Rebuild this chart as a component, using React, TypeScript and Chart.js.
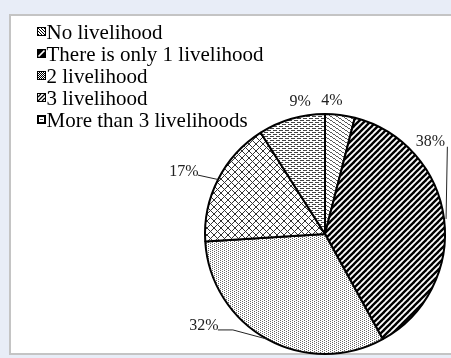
import React, { useEffect, useRef } from "react";
import { Chart, registerables } from "chart.js";

Chart.register(...registerables);

const categories = [
  "No livelihood",
  "There is only 1 livelihood",
  "2 livelihood",
  "3 livelihood",
  "More than 3 livelihoods",
];
const shares = [4, 38, 32, 17, 9];
const percentLabels = ["4%", "38%", "32%", "17%", "9%"];

type Draw = (g: CanvasRenderingContext2D) => void;

function makeTile(w: number, h: number, draw: Draw): HTMLCanvasElement {
  const c = document.createElement("canvas");
  c.width = w;
  c.height = h;
  const g = c.getContext("2d")!;
  g.fillStyle = "#fff";
  g.fillRect(0, 0, w, h);
  draw(g);
  return c;
}

function buildTiles(): HTMLCanvasElement[] {
  // 0: fine wavy dashes
  const t0 = makeTile(6, 4, (g) => {
    g.fillStyle = "#5a5a5a";
    g.fillRect(0, 0, 2, 1);
    g.fillRect(2, 1, 1, 1);
    g.fillRect(3, 2, 2, 1);
    g.fillRect(5, 3, 1, 1);
  });
  // 1: bold "/" stripes
  const t1 = makeTile(6, 6, (g) => {
    g.strokeStyle = "#000";
    g.lineWidth = 2.4;
    for (let k = -1; k <= 1; k++) {
      g.beginPath();
      g.moveTo(k * 6 - 1, 7);
      g.lineTo(k * 6 + 7, -1);
      g.stroke();
    }
  });
  // 2: fine stipple
  const t2 = makeTile(4, 2, (g) => {
    g.fillStyle = "#666";
    g.fillRect(0, 0, 1, 1);
    g.fillRect(2, 1, 1, 1);
  });
  // 3: diagonal crosshatch
  const t3 = makeTile(7, 7, (g) => {
    g.fillStyle = "#333";
    for (let y = 0; y < 7; y++)
      for (let x = 0; x < 7; x++)
        if ((x + y) % 7 === 0 || (x - y + 7) % 7 === 0) g.fillRect(x, y, 1, 1);
  });
  // 4: horizontal dashes
  const t4 = makeTile(6, 4, (g) => {
    g.fillStyle = "#444";
    g.fillRect(0, 0, 4, 1);
    g.fillRect(3, 2, 3, 1);
    g.fillRect(0, 2, 1, 1);
  });
  return [t0, t1, t2, t3, t4];
}

function makeIcon(idx: number): HTMLCanvasElement {
  const c = document.createElement("canvas");
  c.width = 23;
  c.height = 21;
  const g = c.getContext("2d")!;
  g.fillStyle = "#000";
  g.fillRect(13, 4, 9, 9);
  const ox = 14;
  const oy = 5;
  g.fillStyle = "#fff";
  if (idx === 1) {
    g.strokeStyle = "#fff";
    g.lineWidth = 1.7;
    g.beginPath();
    g.moveTo(14.5, 11.5);
    g.lineTo(20.5, 5.5);
    g.stroke();
  } else if (idx === 0) {
    for (let y = 0; y < 7; y++)
      for (let x = 0; x < 7; x++) if ((x + 2 * y) % 3 !== 0) g.fillRect(ox + x, oy + y, 1, 1);
  } else if (idx === 2) {
    for (let y = 0; y < 7; y++)
      for (let x = 0; x < 7; x++) if ((x + y) % 2 === 0) g.fillRect(ox + x, oy + y, 1, 1);
  } else if (idx === 3) {
    g.fillRect(ox, oy, 7, 7);
    g.strokeStyle = "#000";
    g.lineWidth = 1.2;
    g.beginPath();
    g.moveTo(ox, oy + 7);
    g.lineTo(ox + 7, oy);
    g.moveTo(ox, oy + 3);
    g.lineTo(ox + 3, oy);
    g.moveTo(ox + 4, oy + 7);
    g.lineTo(ox + 7, oy + 4);
    g.stroke();
  } else {
    g.fillRect(ox + 1, oy + 1, 5, 5);
    g.fillStyle = "#555";
    g.fillRect(ox + 2, oy + 3, 3, 1);
  }
  return c;
}

// label placement: angle offset from slice middle (deg), distance as fraction of radius
const labelAngleOffset = [-4.2, -34, 24, -3.3, 5.6];
const labelDistance = [1.108, 1.167, 1.267, 1.283, 1.125];

const labelPlugin = {
  id: "pctLabels",
  afterDatasetsDraw(chart: any) {
    const meta = chart.getDatasetMeta(0);
    const ctx: CanvasRenderingContext2D = chart.ctx;
    ctx.save();
    ctx.font = "16px 'Liberation Serif', 'Times New Roman', serif";
    ctx.fillStyle = "#222";
    ctx.textAlign = "center";
    ctx.textBaseline = "middle";
    meta.data.forEach((arc: any, i: number) => {
      const { x, y, startAngle, endAngle, outerRadius } = arc.getProps(
        ["x", "y", "startAngle", "endAngle", "outerRadius"],
        true
      );
      const mid = (startAngle + endAngle) / 2;
      const a = mid + (labelAngleOffset[i] * Math.PI) / 180;
      const d = outerRadius * labelDistance[i];
      const lx = x + Math.cos(a) * d;
      const ly = y + Math.sin(a) * d;
      ctx.fillText(percentLabels[i], lx, ly);
      const ex = x + Math.cos(mid) * outerRadius;
      const ey = y + Math.sin(mid) * outerRadius;
      ctx.strokeStyle = "#222";
      ctx.lineWidth = 1;
      if (i === 1) {
        ctx.beginPath();
        ctx.moveTo(lx + 17, ly + 5);
        ctx.lineTo(ex + 2, ey);
        ctx.stroke();
      } else if (i === 2) {
        ctx.beginPath();
        ctx.moveTo(lx + 14, ly + 4);
        ctx.lineTo(lx + 29, ly + 4);
        ctx.lineTo(ex, ey);
        ctx.stroke();
      } else if (i === 3) {
        ctx.beginPath();
        ctx.moveTo(lx + 14, ly + 3);
        ctx.lineTo(ex, ey);
        ctx.stroke();
      }
    });
    ctx.restore();
  },
};

export default function App() {
  const ref = useRef<HTMLCanvasElement | null>(null);

  useEffect(() => {
    const canvas = ref.current!;
    const tiles = buildTiles();
    const ctx = canvas.getContext("2d")!;
    const patterns = tiles.map((t) => ctx.createPattern(t, "repeat")!);
    const icons = categories.map((_, i) => makeIcon(i));

    const chart = new Chart(canvas, {
      type: "pie",
      data: {
        labels: categories,
        datasets: [
          {
            data: shares,
            backgroundColor: patterns as any,
            borderColor: "#000",
            borderWidth: 2,
            radius: 120,
            clip: false,
          } as any,
        ],
      },
      options: {
        animation: false,
        responsive: false,
        events: [],
        layout: { padding: { left: 34, top: 22, right: 67, bottom: 0 } },
        plugins: {
          tooltip: { enabled: false },
          legend: {
            position: "left",
            align: "start",
            maxWidth: 232,
            labels: {
              boxWidth: 1,
              boxHeight: 20,
              usePointStyle: true,
              padding: 1,
              color: "#1f1f1f",
              font: { family: "'Liberation Serif', 'Times New Roman', serif", size: 21 },
              generateLabels: () =>
                categories.map((c, i) => ({
                  text: c,
                  pointStyle: icons[i] as any,
                  fillStyle: "#000",
                  strokeStyle: "#000",
                  lineWidth: 0,
                  hidden: false,
                  index: i,
                  datasetIndex: 0,
                })),
            },
          },
        },
      } as any,
      plugins: [labelPlugin],
    });
    return () => chart.destroy();
  }, []);

  return (
    <div
      style={{
        position: "fixed",
        left: 0,
        top: 0,
        width: 451,
        height: 358,
        background: "#e8edf7",
        overflow: "hidden",
      }}
    >
      <div
        style={{
          position: "absolute",
          left: 9,
          top: 14,
          width: 470,
          height: 337,
          background: "#fff",
          border: "2px solid #c4c4c4",
        }}
      />
      <canvas
        ref={ref}
        width={451}
        height={446}
        style={{ position: "absolute", left: 0, top: 0, width: 451, height: 446 }}
      />
    </div>
  );
}
